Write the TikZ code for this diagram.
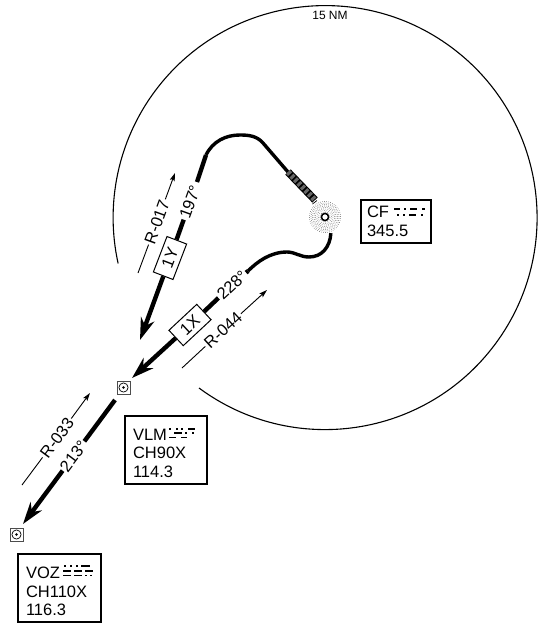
\documentclass[tikz,border=0pt]{standalone}
\usepackage{fontspec}
\setmainfont{Liberation Sans}
\usetikzlibrary{arrows.meta}
\tikzset{
  ring/.style={draw=black, line width=1.1pt},
  track/.style={draw=black, line width=4.4pt},
  trackc/.style={draw=black, line width=3.4pt},
  trackarr/.style={track, -{Stealth[length=22pt,width=14pt,inset=7pt]}},
  radial/.style={draw=black, line width=0.9pt},
  radialarr/.style={radial, -{Stealth[length=8pt,width=5pt,inset=1.5pt]}},
  lab/.style={fill=white, font=\fontsize{16.5}{16.5}\selectfont, inner sep=1.5pt},
  legbox/.style={rectangle, draw=black, line width=1pt, fill=white, font=\fontsize{16.5}{16.5}\selectfont, minimum width=38pt, minimum height=21pt, inner sep=0pt},
  info/.style={rectangle, draw=black, line width=2pt, fill=white, align=left, font=\fontsize{16.5}{18.5}\selectfont, inner sep=0pt},
  fix/.style={rectangle, draw=black!70, line width=0.7pt, minimum size=13pt, inner sep=0pt, path picture={
    \draw[black, line width=0.7pt] (path picture bounding box.center) circle (4.6pt);
    \fill (path picture bounding box.center) circle (1.4pt);}},
  cfdot/.style={circle, minimum size=34pt, inner sep=0pt},
}
\newcommand{\morse}[2]{\foreach \xa/\xb in {#2} \draw[line width=1.5pt] (\xa,#1) -- (\xb,#1);}

\begin{document}
\begin{tikzpicture}[x=1pt,y=-1pt]
  \useasboundingbox (0,0) rectangle (542,627);

  \node[cfdot] (cf) at (325,217) {};
  \node[fix] (vlm) at (123.5,387.5) {};
  \node[fix] (voz) at (16.5,534.5) {};

  % range ring
  \coordinate (ringstart) at (199,388);
  \draw[ring] (ringstart) arc[start angle=233.5, end angle=552.5, radius=212pt];
  \node[font=\fontsize{12}{12}\selectfont] (nm) at (330,15) {15 NM};

  % stipple
  \begin{scope}[shift={(cf)}]
    \foreach \r/\st in {5/24,6.5/18,8/15,9.5/12,11/10,12.5/9,14/8,15.5/7.5}
      \foreach \a in {0,\st,...,359}
        \fill[black!70] (\a+\r*3:\r pt) circle (0.36pt);
  \end{scope}
  \draw[line width=1.6pt] (cf) circle (3.6pt);

  % info boxes
  \node[info, minimum width=70pt, minimum height=43pt, text width=58pt] (cfbox) at (396,221.5) {CF\\345.5};
  \node[info, minimum width=82pt, minimum height=68pt, text width=65pt] (vlmbox) at (165.5,449.5) {\rule{0pt}{19pt}VLM\\CH90X\\114.3};
  \node[info, minimum width=83pt, minimum height=68pt, text width=67pt] (vozbox) at (59.5,588) {\rule{0pt}{19pt}VOZ\\CH110X\\116.3};
  \morse{209}{394/400,404/406,410/417,422/425}
  \morse{215}{397/399,403/405,409/416,421/423}
  \morse{429}{169/171,176/178,181/183,188/195}
  \morse{433}{174/182,185/187,192/194}
  \morse{437.5}{169/176,181/187}
  \morse{566}{64/66,70/72,76/78,81/90}
  \morse{571}{63/71,74/82,85/93}
  \morse{575.5}{63/71,74/82,85/87,90/92}

  % leg labels
  \node[lab, rotate=70] (l197) at (190,202) {197°};
  \node[legbox, rotate=69] (b1y) at (170,258) {1Y};
  \node[lab, rotate=43] (l228) at (232,285) {228°};
  \node[legbox, rotate=43] (b1x) at (190,325) {1X};
  \node[lab, rotate=53, inner sep=1pt] (l213) at (73.5,456) {213°};

  % tracks
  \coordinate (t1y) at (197,182);
  \coordinate (t1ya) at (206,155);
  \coordinate (t1yb) at (263,143);
  \coordinate (hatcha) at (288,172);
  \coordinate (hatchb) at (315,200);
  \coordinate (t1x) at (248,271);
  \coordinate (tipy) at (140,340);
  \coordinate (tipx) at (132,378);
  \coordinate (t213) at (115,400);
  \coordinate (tipz) at (23,524);

  \path[track] (l197) -- (b1y);
  \path[trackarr] (b1y) -- (tipy);
  \path[track] (t1y) -- (t1ya);
  \path[trackc] (t1ya) .. controls (213,141) and (226,135) .. (240,135) .. controls (249,135) and (257,136) .. (t1yb) -- (hatcha);
  \path[track] (l228) -- (b1x);
  \path[trackarr] (b1x) -- (tipx);
  \path[track] (l228) -- (t1x);
  \path[trackc] (t1x) .. controls (257,262) and (270,252) .. (287,252) .. controls (295,252) and (300,257) .. (309,257) .. controls (322,257) and (330,247) .. (cf.-70);
  \path[track] (t213) -- (l213);
  \path[trackarr] (l213) -- (tipz);

  % hatched part
  \draw[line width=7.5pt, black] (hatcha) -- (hatchb);
  \draw[line width=5.5pt, black!60, dash pattern=on 3pt off 2pt] (hatcha) -- (hatchb);
  \coordinate (ticka) at (312.5,204);
  \coordinate (tickb) at (317,200.5);
  \draw[line width=0.7pt] (ticka) -- (tickb);

  % radials
  \node[lab, rotate=70] (r017) at (157,222) {R-017};
  \node[lab, rotate=42.5] (r044) at (223,330) {R-044};
  \node[lab, rotate=53.5] (r033) at (57,438) {R-033};
  \coordinate (r017a) at (138,273);
  \coordinate (r017b) at (175,173);
  \coordinate (r044a) at (182,368);
  \coordinate (r044b) at (267,290);
  \coordinate (r033a) at (22,485);
  \coordinate (r033b) at (90,393);
  \path[radial] (r017a) -- (r017);
  \path[radialarr] (r017) -- (r017b);
  \path[radial] (r044a) -- (r044);
  \path[radialarr] (r044) -- (r044b);
  \path[radial] (r033a) -- (r033);
  \path[radialarr] (r033) -- (r033b);
\end{tikzpicture}
\end{document}
